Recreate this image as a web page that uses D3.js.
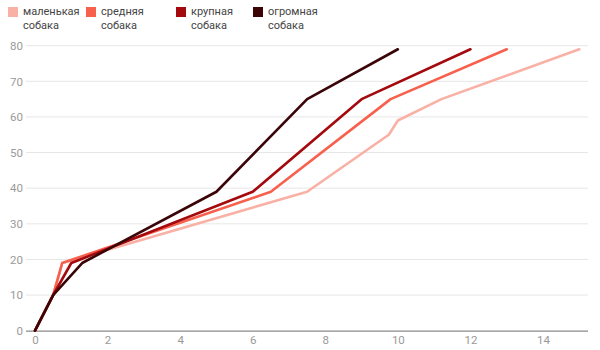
<!DOCTYPE html>
<html><head><meta charset="utf-8">
<script src="https://cdn.jsdelivr.net/npm/d3@7"></script>
<style>body{margin:0;background:#fff;}svg{display:block;font-family:Roboto,Arial,sans-serif;}</style>
</head><body><svg id="c" width="600" height="350"></svg>
<script>
const seriesNames = ["маленькая собака", "средняя собака", "крупная собака", "огромная собака"];
const seriesColors = ["#f9b1a6", "#f8604e", "#a3090d", "#3b0508"];
const smallX = [0, 0.5, 0.75, 7.5, 9.75, 10, 11.2, 15];
const smallY = [0, 10, 19, 39, 55, 59, 65, 79];
const mediumX = [0, 0.5, 0.75, 6.5, 9.8, 13];
const mediumY = [0, 10, 19, 39, 65, 79];
const largeX = [0, 0.5, 1, 6, 9, 12];
const largeY = [0, 10, 19, 39, 65, 79];
const hugeX = [0, 0.5, 1.3, 5, 7.5, 10];
const hugeY = [0, 10, 19, 39, 65, 79];
const xTicks = [0, 2, 4, 6, 8, 10, 12, 14];
const yTicks = [0, 10, 20, 30, 40, 50, 60, 70, 80];

const series = [[smallX, smallY], [mediumX, mediumY], [largeX, largeY], [hugeX, hugeY]]
  .map((s, i) => ({name: seriesNames[i], color: seriesColors[i], pts: s[0].map((x, j) => [x, s[1][j]])}));

const svg = d3.select("#c");
const x = d3.scaleLinear().domain([0, 15.24]).range([35, 588]);
const y = d3.scaleLinear().domain([0, 80]).range([330.7, 45.7]);

// gridlines
svg.append("g").selectAll("line").data(yTicks.filter(d => d > 0)).join("line")
  .attr("x1", 26).attr("x2", 588).attr("y1", d => y(d)).attr("y2", d => y(d))
  .attr("stroke", "#e6e6e6").attr("stroke-width", 1);

// y labels
const ya = svg.append("g").attr("transform", "translate(26,0)")
  .call(d3.axisLeft(y).tickValues(yTicks).tickSize(0).tickPadding(3));
ya.select(".domain").remove();
ya.selectAll("text").attr("fill", "#9a9a9a").style("font-size", "11.5px").style("font-family", "Roboto, Arial, sans-serif");

// x axis
const xa = svg.append("g").attr("transform", `translate(0,${y(0)})`)
  .call(d3.axisBottom(x).tickValues(xTicks).tickSize(0).tickPadding(5));
xa.select(".domain").attr("stroke", "#8a8a8a").attr("stroke-width", 1.3).attr("d", `M26,0.5H588`);
xa.selectAll("text").attr("fill", "#9a9a9a").style("font-size", "11.5px").style("font-family", "Roboto, Arial, sans-serif");

const line = d3.line().x(d => x(d[0])).y(d => y(d[1]));
svg.append("g").selectAll("path").data(series).join("path")
  .attr("d", d => line(d.pts)).attr("fill", "none")
  .attr("stroke", d => d.color).attr("stroke-width", 2.6)
  .attr("stroke-linejoin", "round").attr("stroke-linecap", "round");

// legend
const legX = [8, 86, 176, 253];
const leg = svg.append("g").selectAll("g").data(series).join("g")
  .attr("transform", (d, i) => `translate(${legX[i]},0)`);
leg.append("rect").attr("x", 0).attr("y", 7).attr("width", 10).attr("height", 10).attr("fill", d => d.color);
leg.append("text").attr("x", 15).attr("y", 15).attr("fill", "#444").style("font-size", "11px")
  .style("font-family", "Roboto, Arial, sans-serif")
  .selectAll("tspan").data(d => d.name.split(" ")).join("tspan")
  .attr("x", 15).attr("dy", (d, i) => i === 0 ? 0 : 13.5).text(d => d);
</script></body></html>
